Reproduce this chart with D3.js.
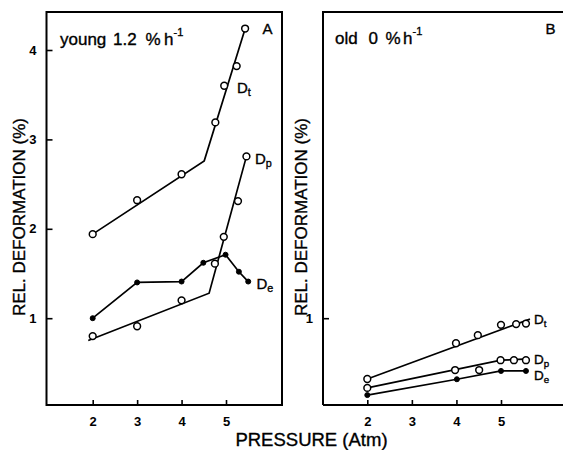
<!DOCTYPE html>
<html>
<head>
<meta charset="utf-8">
<script src="https://cdn.jsdelivr.net/npm/d3@7/dist/d3.min.js"></script>
<style>
  html, body { margin: 0; padding: 0; background: #fff; }
  svg { display: block; font-family: "Liberation Sans", Arial, sans-serif; }
  text.heavy { stroke: #000; stroke-width: 0.35px; }
</style>
</head>
<body>
<svg id="chart" width="563" height="450"></svg>
<script>
// ---- Panel A: young, 1.2 % h-1 ----
const aDtP = [2, 3, 4, 4.76, 4.96, 5.24, 5.43];
const aDtV = [1.94, 2.32, 2.61, 3.19, 3.60, 3.82, 4.24];
const aDtFitP = [2, 4.51, 5.42];
const aDtFitV = [1.94, 2.76, 4.22];

const aDpP = [2, 3, 4, 4.75, 4.95, 5.27, 5.46];
const aDpV = [0.80, 0.91, 1.20, 1.61, 1.91, 2.31, 2.81];
const aDpFitP = [1.9, 4.62, 5.46];
const aDpFitV = [0.75, 1.28, 2.81];

const aDeP = [2, 3, 4, 4.49, 4.99, 5.29, 5.5];
const aDeV = [1.00, 1.40, 1.41, 1.62, 1.71, 1.52, 1.41];

// ---- Panel B: old, 0 % h-1 ----
const bDtP = [2, 3.99, 4.48, 5.0, 5.34, 5.56];
const bDtV = [0.32, 0.72, 0.81, 0.926, 0.934, 0.94];
const bDtFitP = [2, 5.65];
const bDtFitV = [0.32, 0.99];

const bDpP = [2, 3.97, 4.51, 4.99, 5.29, 5.56];
const bDpV = [0.22, 0.42, 0.42, 0.53, 0.53, 0.53];
const bDpFitP = [2, 5.0, 5.62];
const bDpFitV = [0.22, 0.53, 0.545];

const bDeP = [2, 4.01, 5.0, 5.56];
const bDeV = [0.14, 0.317, 0.41, 0.41];

const xTicks = [2, 3, 4, 5];
const aYTicks = [1, 2, 3, 4];
const bYTicks = [1];

const svg = d3.select("#chart");

// shared vertical scale
const y = d3.scaleLinear().domain([0, 4]).range([407.6, 50]);
const xA = d3.scaleLinear().domain([2, 5]).range([92.7, 226]);
const xB = d3.scaleLinear().domain([2, 5]).range([367.3, 501]);

const frameTop = 12, frameBottom = 405;

function frame(x0, x1) {
  const closed = x1 < 563;
  const d = closed
    ? `M${x0},${frameBottom}V${frameTop}H${x1}V${frameBottom}Z`
    : `M${x0},${frameBottom}V${frameTop}H${x1}M${x0},${frameBottom}H${x1}`;
  svg.append("path").attr("d", d)
    .attr("fill", "none").attr("stroke", "#000").attr("stroke-width", 2);
}

function axes(x, x0, yTicks) {
  const g = svg.append("g");
  // bottom axis, ticks pointing inward
  const xa = g.append("g").attr("transform", `translate(0,${frameBottom})`)
    .call(d3.axisBottom(x).tickValues(xTicks).tickSizeInner(-5).tickSizeOuter(0).tickPadding(12).tickFormat(d3.format("d")));
  xa.select(".domain").remove();
  xa.selectAll("line").attr("stroke", "#000").attr("stroke-width", 1.6);
  xa.selectAll("text").attr("font-size", 13).attr("font-weight", "bold").attr("fill", "#000");
  // left axis, ticks pointing inward
  const ya = g.append("g").attr("transform", `translate(${x0},0)`)
    .call(d3.axisLeft(y).tickValues(yTicks).tickSizeInner(-6).tickSizeOuter(0).tickPadding(10).tickFormat(d3.format("d")));
  ya.select(".domain").remove();
  ya.selectAll("line").attr("stroke", "#000").attr("stroke-width", 1.6);
  ya.selectAll("text").attr("font-size", 13).attr("font-weight", "bold").attr("fill", "#000");
}

function line(x, ps, vs) {
  const pts = ps.map((p, i) => [x(p), y(vs[i])]);
  svg.append("path").attr("d", d3.line()(pts))
    .attr("fill", "none").attr("stroke", "#000").attr("stroke-width", 1.7);
}

function dots(x, ps, vs, open) {
  svg.append("g").selectAll("circle").data(ps).join("circle")
    .attr("cx", d => x(d)).attr("cy", (d, i) => y(vs[i]))
    .attr("r", open ? 3.4 : 2.5)
    .attr("fill", open ? "#fff" : "#000")
    .attr("stroke", "#000").attr("stroke-width", open ? 1.5 : 1);
}

function seriesLabel(px, py, sub, size) {
  const t = svg.append("text").attr("class", "heavy")
    .attr("x", px).attr("y", py).attr("font-size", size).attr("fill", "#000");
  t.append("tspan").text("D");
  t.append("tspan").attr("font-size", size * 0.72).attr("dy", 3).text(sub);
}

function yTitle(cx) {
  svg.append("text").attr("class", "heavy")
    .attr("transform", `translate(${cx},217) rotate(-90)`)
    .attr("text-anchor", "middle").attr("font-size", 17).attr("fill", "#000")
    .text("REL. DEFORMATION (%)");
}

function condition(pieces, baseline) {
  const t = svg.append("text").attr("class", "heavy")
    .attr("y", baseline).attr("font-size", 17).attr("fill", "#000");
  pieces.forEach(p => {
    const s = t.append("tspan").attr("x", p.x).text(p.t);
    if (p.sup) s.attr("font-size", 11).attr("y", baseline - 9);
    else s.attr("y", baseline);
  });
}

// Panel A
frame(46.5, 282);
axes(xA, 46.5, aYTicks);
line(xA, aDtFitP, aDtFitV);
line(xA, aDpFitP, aDpFitV);
line(xA, aDeP, aDeV);
dots(xA, aDtP, aDtV, true);
dots(xA, aDpP, aDpV, true);
dots(xA, aDeP, aDeV, false);
seriesLabel(237, 92.5, "t", 15);
seriesLabel(255, 164, "p", 15);
seriesLabel(256.5, 288.5, "e", 15);
yTitle(25);
condition([{x: 60, t: "young"}, {x: 113, t: "1.2"}, {x: 145.5, t: "%"}, {x: 164, t: "h"}, {x: 173.5, t: "-1", sup: true}], 45);
svg.append("text").attr("class", "heavy").attr("x", 262.5).attr("y", 33.5).attr("font-size", 15).text("A");

// Panel B
frame(323, 570);
axes(xB, 323, bYTicks);
line(xB, bDtFitP, bDtFitV);
line(xB, bDpFitP, bDpFitV);
line(xB, bDeP, bDeV);
dots(xB, bDtP, bDtV, true);
dots(xB, bDpP, bDpV, true);
dots(xB, bDeP, bDeV, false);
seriesLabel(534, 323.5, "t", 13.5);
seriesLabel(534, 363.5, "p", 13.5);
seriesLabel(534, 379.5, "e", 13.5);
yTitle(306.5);
condition([{x: 335, t: "old"}, {x: 368.5, t: "0"}, {x: 385.5, t: "%"}, {x: 403, t: "h"}, {x: 412.5, t: "-1", sup: true}], 43.5);
svg.append("text").attr("class", "heavy").attr("x", 545.5).attr("y", 33.5).attr("font-size", 15).text("B");

// shared x title
svg.append("text").attr("class", "heavy").attr("x", 311.5).attr("y", 446).attr("text-anchor", "middle")
  .attr("font-size", 18.5).attr("fill", "#000").text("PRESSURE (Atm)");
</script>
</body>
</html>
